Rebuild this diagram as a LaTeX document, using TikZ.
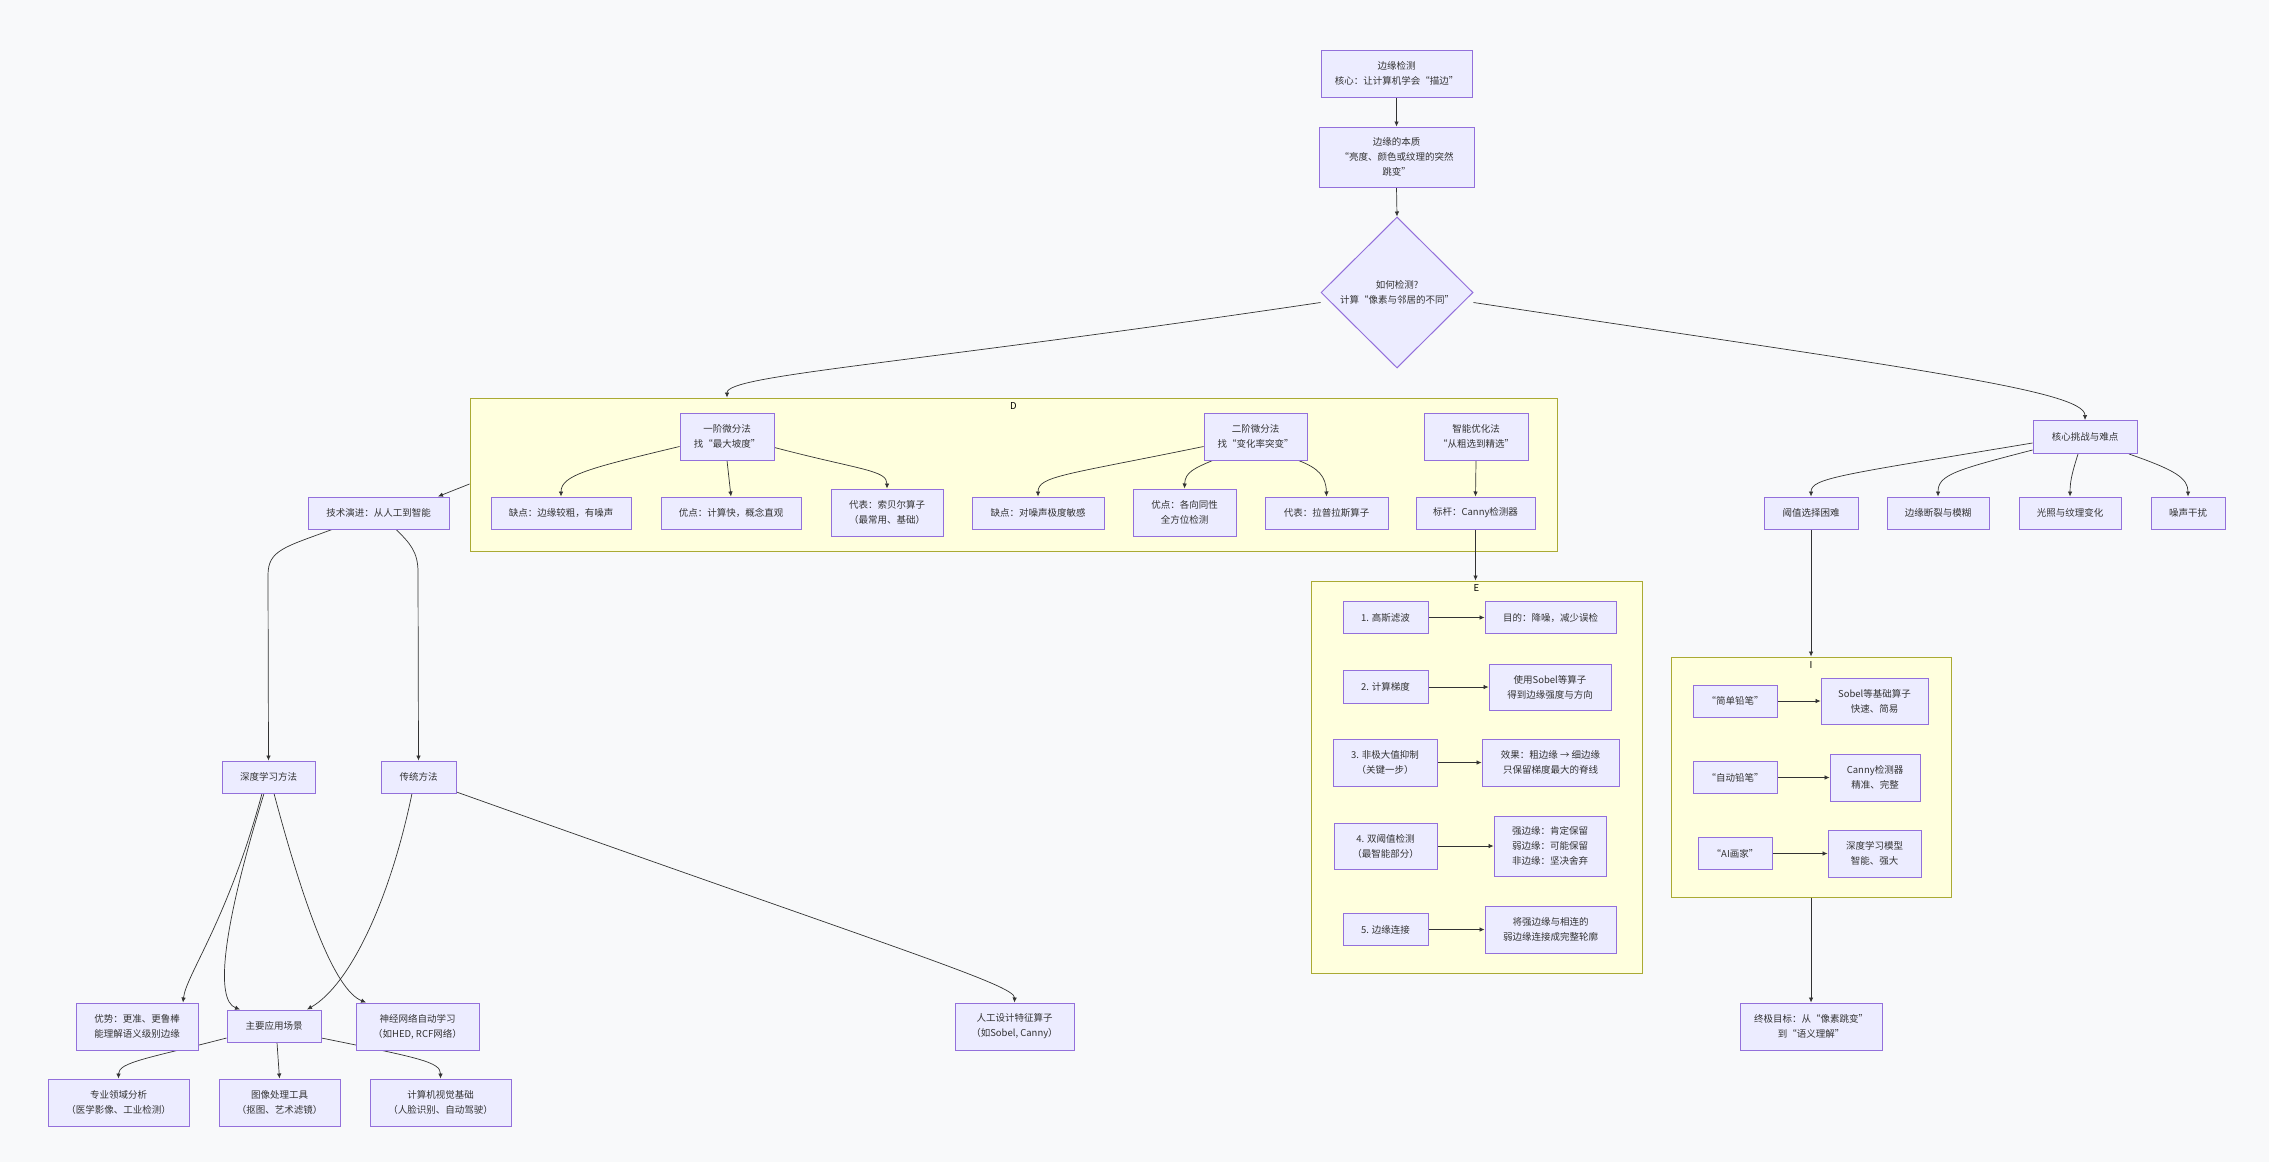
\documentclass[tikz,border=0pt]{standalone}
\usepackage{fontspec}
\setmainfont{Noto Sans CJK SC}
\usetikzlibrary{arrows.meta,shapes.geometric}
\definecolor{bgc}{HTML}{F8F9FA}
\definecolor{nfill}{HTML}{ECECFF}
\definecolor{nborder}{HTML}{9370DB}
\definecolor{sfill}{HTML}{FFFFDE}
\definecolor{sborder}{HTML}{AAAA33}
\definecolor{ecol}{HTML}{333333}
\definecolor{tcol}{HTML}{333333}
\pgfdeclarelayer{bg}
\pgfdeclarelayer{edges}
\pgfsetlayers{bg,edges,main}
\newcommand{\nf}{\fontsize{9.5}{15}\selectfont}
\begin{document}
\begin{tikzpicture}[x=1pt,y=-1pt,
 box/.style={draw=nborder, fill=nfill, line width=1pt, inner sep=0pt, align=center, text=tcol, font=\nf},
 sz/.style 2 args={minimum width=#1pt, minimum height=#2pt},
 sub/.style={draw=sborder, fill=sfill, line width=1pt, inner sep=0pt},
 sublabel/.style={font=\nf, text=black, inner sep=0pt},
 edge/.style={draw=ecol, line width=0.7pt, -{Latex[length=5pt,width=4.5pt]}},
]
\begin{pgfonlayer}{bg}
\fill[bgc] (0,0) rectangle (2269,1162);
\node[sub, sz={1087}{153}] (D) at (1013.5,474.5) {};
\node[sub, sz={331}{392}] (E) at (1476.5,777) {};
\node[sub, sz={280}{240}] (I) at (1811,777) {};
\end{pgfonlayer}
\useasboundingbox (0,0) rectangle (2269,1162);
\node[sublabel] (Dl) at (1013.5,406) {D};
\node[sublabel] (El) at (1476.5,588) {E};
\node[sublabel] (Il) at (1811,665) {I};

% top chain
\node[box, sz={151}{47}] (A) at (1396.5,73.5) {边缘检测\\核心：让计算机学会“描边”};
\node[box, sz={155}{60}] (B) at (1396.5,157) {边缘的本质\\“亮度、颜色或纹理的突然\\跳变”};
\node[box, diamond, aspect=1, sz={152}{151}] (C) at (1397,292.5) {如何检测?\\计算“像素与邻居的不同”};

% D group
\node[box, sz={94}{47}] (d1) at (727,436.5) {一阶微分法\\找“最大坡度”};
\node[box, sz={140}{32}] (d1a) at (561,513) {缺点：边缘较粗，有噪声};
\node[box, sz={140}{32}] (d1b) at (731,513) {优点：计算快，概念直观};
\node[box, sz={112}{47}] (d1c) at (887,512.5) {代表：索贝尔算子\\（最常用、基础）};
\node[box, sz={103}{47}] (d2) at (1255.5,436.5) {二阶微分法\\找“变化率突变”};
\node[box, sz={132}{32}] (d2a) at (1038,513) {缺点：对噪声极度敏感};
\node[box, sz={103}{47}] (d2b) at (1184.5,512.5) {优点：各向同性\\全方位检测};
\node[box, sz={123}{32}] (d2c) at (1326.5,513) {代表：拉普拉斯算子};
\node[box, sz={104}{47}] (d3) at (1476,436.5) {智能优化法\\“从粗选到精选”};
\node[box, sz={119}{32}] (d3a) at (1475.5,513) {标杆：Canny检测器};

% challenges
\node[box, sz={104}{33}] (ch) at (2085,437) {核心挑战与难点};
\node[box, sz={94}{32}] (ch1) at (1811,513) {阈值选择困难};
\node[box, sz={102}{32}] (ch2) at (1938,513) {边缘断裂与模糊};
\node[box, sz={102}{32}] (ch3) at (2070,513) {光照与纹理变化};
\node[box, sz={74}{32}] (ch4) at (2188,513) {噪声干扰};

% E group
\node[box, sz={85}{32}] (e1) at (1385.5,617.5) {1. 高斯滤波};
\node[box, sz={131}{32}] (e1r) at (1550.5,617.5) {目的：降噪，减少误检};
\node[box, sz={85}{33}] (e2) at (1385.5,687) {2. 计算梯度};
\node[box, sz={122}{46}] (e2r) at (1550,687) {使用Sobel等算子\\得到边缘强度与方向};
\node[box, sz={104}{47}] (e3) at (1385,762.5) {3. 非极大值抑制\\（关键一步）};
\node[box, sz={137}{47}] (e3r) at (1550.5,762.5) {效果：粗边缘 → 细边缘\\只保留梯度最大的脊线};
\node[box, sz={103}{46}] (e4) at (1385.5,846) {4. 双阈值检测\\（最智能部分）};
\node[box, sz={112}{60}] (e4r) at (1550,846) {强边缘：肯定保留\\弱边缘：可能保留\\非边缘：坚决舍弃};
\node[box, sz={85}{32}] (e5) at (1385.5,929.5) {5. 边缘连接};
\node[box, sz={131}{47}] (e5r) at (1550.5,929.5) {将强边缘与相连的\\弱边缘连接成完整轮廓};

% I group
\node[box, sz={84}{32}] (i1) at (1735,701) {“简单铅笔”};
\node[box, sz={107}{46}] (i1r) at (1874.5,701) {Sobel等基础算子\\快速、简易};
\node[box, sz={84}{32}] (i2) at (1735,777.5) {“自动铅笔”};
\node[box, sz={90}{47}] (i2r) at (1875,777.5) {Canny检测器\\精准、完整};
\node[box, sz={74}{32}] (i3) at (1735,853.5) {“AI画家”};
\node[box, sz={93}{47}] (i3r) at (1874.5,853.5) {深度学习模型\\智能、强大};
\node[box, sz={142}{47}] (goal) at (1811,1026.5) {终极目标：从“像素跳变”\\到“语义理解”};

% left side
\node[box, sz={141}{32}] (tech) at (378.5,513) {技术演进：从人工到智能};
\node[box, sz={93}{32}] (dl) at (268.5,777) {深度学习方法};
\node[box, sz={75}{32}] (trad) at (418.5,777) {传统方法};
\node[box, sz={122}{47}] (adv) at (137,1026.5) {优势：更准、更鲁棒\\能理解语义级别边缘};
\node[box, sz={94}{32}] (app) at (274,1026) {主要应用场景};
\node[box, sz={123}{47}] (nn) at (417.5,1026.5) {神经网络自动学习\\（如HED, RCF网络）};
\node[box, sz={119}{47}] (hand) at (1014.5,1026.5) {人工设计特征算子\\（如Sobel, Canny）};
\node[box, sz={141}{47}] (app1) at (118.5,1102.5) {专业领域分析\\（医学影像、工业检测）};
\node[box, sz={121}{47}] (app2) at (279.5,1102.5) {图像处理工具\\（抠图、艺术滤镜）};
\node[box, sz={141}{47}] (app3) at (440.5,1102.5) {计算机视觉基础\\（人脸识别、自动驾驶）};

\begin{pgfonlayer}{edges}
\draw[edge] (A.south) -- (B.north);
\draw[edge] (B.south) -- (C.north);
\draw[edge] ([yshift=-10pt]C.west) .. controls (900,365) and (727,375) .. (D.north -| d1);
\draw[edge] ([yshift=-10pt]C.east) .. controls (1900,367) and (2085,390) .. (ch.north);
\draw[edge] ([yshift=-9.5pt]D.west) -- ([xshift=59.5pt]tech.north);
\draw[edge] ([yshift=-10pt]d1.west) .. controls (590,468) and (561,475) .. (d1a.north);
\draw[edge] (d1.south) -- (d1b.north);
\draw[edge] ([yshift=-11pt]d1.east) .. controls (860,470) and (887,470) .. (d1c.north);
\draw[edge] ([yshift=-10pt]d2.west) .. controls (1065,475) and (1038,476) .. (d2a.north);
\draw[edge] ([xshift=-43pt]d2.south) .. controls (1195,468) and (1185,472) .. (d2b.north);
\draw[edge] ([xshift=43pt]d2.south) .. controls (1318,468) and (1326,476) .. (d2c.north);
\draw[edge] (d3.south) -- (d3a.north);
\draw[edge] (d3a.south) -- (E.north -| d3a);
\draw[edge] (e1.east) -- (e1r.west);
\draw[edge] (e2.east) -- (e2r.west);
\draw[edge] (e3.east) -- (e3r.west);
\draw[edge] (e4.east) -- (e4r.west);
\draw[edge] (e5.east) -- (e5r.west);
\draw[edge] ([yshift=-6pt]ch.west) .. controls (1840,475) and (1811,478) .. (ch1.north);
\draw[edge] ([yshift=-13pt]ch.west) .. controls (1955,470) and (1938,475) .. (ch2.north);
\draw[edge] ([xshift=-7pt]ch.south) .. controls (2073,470) and (2070,480) .. (ch3.north);
\draw[edge] ([xshift=44pt]ch.south) .. controls (2175,470) and (2188,478) .. (ch4.north);
\draw[edge] (ch1.south) -- (I.north);
\draw[edge] (i1.east) -- (i1r.west);
\draw[edge] (i2.east) -- (i2r.west);
\draw[edge] (i3.east) -- (i3r.west);
\draw[edge] (I.south) -- (goal.north);
\draw[edge] ([xshift=-46.5pt]tech.south) .. controls (285,547) and (268,550) .. (268,575) -- (dl.north);
\draw[edge] ([xshift=17.5pt]tech.south) .. controls (410,543) and (418,552) .. (418,572) -- (trad.north);
\draw[edge] ([xshift=-6.5pt]dl.south) .. controls (228,920) and (186,975) .. ([xshift=46pt]adv.north);
\draw[edge] ([xshift=-4.5pt]dl.south) .. controls (222,930) and (215,1000) .. ([xshift=-34pt]app.north);
\draw[edge] ([xshift=5.5pt]dl.south) .. controls (305,910) and (335,990) .. ([xshift=-51.5pt]nn.north);
\draw[edge] ([xshift=-6.5pt]trad.south) .. controls (390,900) and (350,985) .. ([xshift=33pt]app.north);
\draw[edge] ([yshift=-15pt]trad.east) .. controls (900,950) and (1015,985) .. (hand.north);
\draw[edge] ([yshift=-12pt]app.west) .. controls (150,1058) and (118.5,1062) .. (app1.north);
\draw[edge] ([xshift=3pt]app.south) -- (app2.north);
\draw[edge] ([yshift=-12pt]app.east) .. controls (420,1058) and (440.5,1062) .. (app3.north);
\end{pgfonlayer}
\end{tikzpicture}
\end{document}
